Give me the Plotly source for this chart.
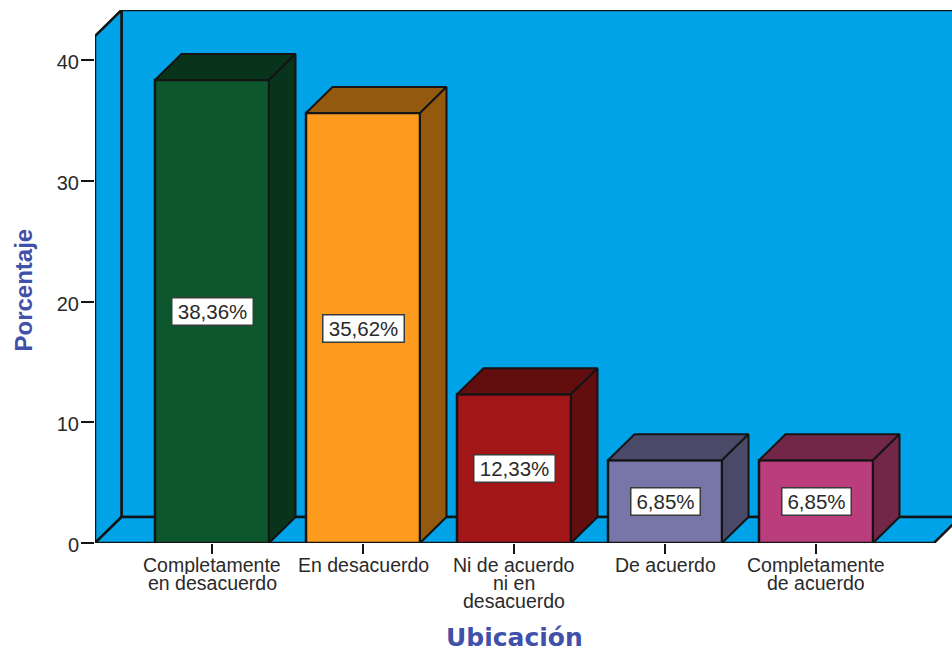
import plotly.graph_objects as go

# Survey results: share of answers per category
categories = ["Completamente en desacuerdo", "En desacuerdo", "Ni de acuerdo ni en desacuerdo", "De acuerdo", "Completamente de acuerdo"]
label_lines = [["Completamente", "en desacuerdo"], ["En desacuerdo"], ["Ni de acuerdo", "ni en", "desacuerdo"], ["De acuerdo"], ["Completamente", "de acuerdo"]]
values = [38.36, 35.62, 12.33, 6.85, 6.85]
value_labels = ["38,36%", "35,62%", "12,33%", "6,85%", "6,85%"]
front_colors = ["#0C572D", "#FD9B1F", "#A31618", "#7876A8", "#BA3D7C"]
side_colors = ["#07341B", "#93590F", "#620D0E", "#4A4A68", "#722749"]
y_ticks = [0, 10, 20, 30, 40]

WALL = "#00A3E8"
EDGE = "#141414"
TEXT = "#2A2A2A"
TITLE = "#3F51A8"
BODY_FONT = "Liberation Sans"

# Plot frame in pixels, and the scale of both axes
W, H = 952, 650
LEFT, TOP, BOTTOM = 95, 10, 543
PX_PER_CAT = 151
PX_PER_UNIT = 12.07
X0_PX = 212
x_min = (LEFT - X0_PX) / PX_PER_CAT
x_max = (W - X0_PX) / PX_PER_CAT
y_max = (BOTTOM - TOP) / PX_PER_UNIT

# Oblique depth of the 3D effect, in axis units
dx = 26.5 / PX_PER_CAT
dy = 26 / PX_PER_UNIT
half = 57 / PX_PER_CAT
floor_end = (934 - X0_PX) / PX_PER_CAT


def polygon(points, fill):
    path = "M " + " L ".join(f"{x},{y}" for x, y in points) + " Z"
    return dict(type="path", path=path, xref="x", yref="y", fillcolor=fill,
                line=dict(color=EDGE, width=2.5), layer="below")


front_top = y_max - dy
shapes = [
    polygon([(x_min + dx, dy), (x_max + 1, dy), (x_max + 1, y_max), (x_min + dx, y_max)], WALL),
    polygon([(x_min, 0), (x_min + dx, dy), (x_min + dx, y_max), (x_min, front_top)], WALL),
    polygon([(x_min, 0), (floor_end, 0), (floor_end + dx, dy), (x_min + dx, dy)], WALL),
]

fig = go.Figure()

fig.add_trace(go.Bar(
    x=list(range(len(values))), y=values, width=2 * half,
    marker=dict(color=front_colors, line=dict(color=EDGE, width=2.5)),
    hovertext=categories, showlegend=False,
))

# Top and side faces of each bar
for i, v in enumerate(values):
    l, r = i - half, i + half
    fig.add_trace(go.Scatter(
        x=[l, r, r + dx, l + dx, l], y=[v, v, v + dy, v + dy, v],
        mode="lines", fill="toself", fillcolor=side_colors[i],
        line=dict(color=EDGE, width=2), showlegend=False, hoverinfo="skip",
    ))
    fig.add_trace(go.Scatter(
        x=[r, r + dx, r + dx, r, r], y=[0, dy, v + dy, v, 0],
        mode="lines", fill="toself", fillcolor=side_colors[i],
        line=dict(color=EDGE, width=2), showlegend=False, hoverinfo="skip",
    ))

annotations = []

# Value labels, centred on the front face
for i, v in enumerate(values):
    annotations.append(dict(
        x=i, y=v / 2, xref="x", yref="y", text=value_labels[i], showarrow=False,
        font=dict(family=BODY_FONT, size=20.5, color=TEXT), bgcolor="white",
        bordercolor="#3A3A3A", borderwidth=1.5, borderpad=0,
        width=80 if len(value_labels[i]) > 5 else 68, height=26,
    ))

# Category labels, one annotation per line for tight leading
for i, lines in enumerate(label_lines):
    for j, line in enumerate(lines):
        annotations.append(dict(
            x=i, y=0, xref="x", yref="paper", yanchor="top", text=line, showarrow=False,
            height=18, yshift=-11 - 18 * j,
            font=dict(family=BODY_FONT, size=19.5, color=TEXT),
        ))

annotations.append(dict(
    x=2, y=0, xref="x", yref="paper", yanchor="middle", text="<b>Ubicación</b>", showarrow=False,
    height=24, yshift=-(637 - BOTTOM), font=dict(family="DejaVu Sans", size=25, color=TITLE),
))
annotations.append(dict(
    x=(23.5 - LEFT) / (W - LEFT), y=(BOTTOM - 290) / (BOTTOM - TOP), xref="paper", yref="paper",
    xanchor="center", yanchor="middle", text="<b>Porcentaje</b>", showarrow=False, textangle=-90,
    font=dict(family="Liberation Sans", size=24, color=TITLE),
))

fig.update_layout(
    width=W, height=H, autosize=False,
    margin=dict(l=LEFT, r=0, t=TOP, b=H - BOTTOM, pad=0),
    paper_bgcolor="white", plot_bgcolor="white",
    shapes=shapes, annotations=annotations, showlegend=False,
    xaxis=dict(range=[x_min, x_max], tickvals=list(range(5)), ticktext=[""] * 5,
               ticks="outside", ticklen=10, tickwidth=2, tickcolor=EDGE,
               showgrid=False, zeroline=False, showline=False),
    yaxis=dict(range=[0, y_max], tickvals=y_ticks, ticks="outside", ticklen=13,
               tickwidth=2, tickcolor=EDGE, showgrid=False, zeroline=False, showline=False,
               ticklabelshift=2, ticklabelstandoff=-2,
               tickfont=dict(family=BODY_FONT, size=20, color=TEXT)),
)

fig.write_html("out.html")
